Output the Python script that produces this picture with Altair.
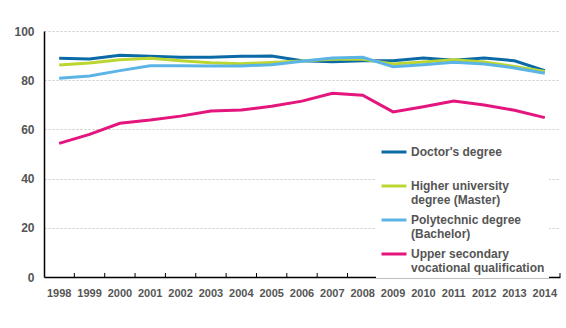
import altair as alt
import pandas as pd

years = list(range(1998, 2015))
doctor = [88.9, 88.6, 90.1, 89.7, 89.3, 89.3, 89.7, 89.8, 87.9, 87.5, 87.9, 87.9, 89.0, 88.1, 89.0, 87.9, 83.9]
master = [86.2, 87.0, 88.3, 88.9, 87.9, 87.1, 86.7, 87.2, 87.8, 88.5, 88.5, 86.6, 87.4, 88.3, 87.4, 85.6, 83.5]
poly = [80.8, 81.7, 83.9, 85.9, 85.9, 85.8, 85.8, 86.3, 87.7, 89.0, 89.3, 85.5, 86.3, 87.3, 86.6, 85.0, 82.8]
upper = [54.3, 58.0, 62.5, 63.8, 65.4, 67.5, 67.9, 69.4, 71.5, 74.7, 73.9, 67.1, 69.2, 71.5, 69.9, 67.8, 64.8]

series_names = [
    "Doctor's degree|",
    "Higher university|degree (Master)",
    "Polytechnic degree|(Bachelor)",
    "Upper secondary|vocational qualification",
]
series_colors = ["#0a6aa6", "#bcd631", "#5cb4e6", "#e4157c"]

rows = []
for name, vals in zip(series_names, [doctor, master, poly, upper]):
    for y, v in zip(years, vals):
        rows.append({"year": str(y), "series": name, "value": v})
df = pd.DataFrame(rows)
ticks_df = pd.DataFrame({"year": [str(y) for y in years]})

FONT = "Liberation Sans"
GRAY = "#555555"
W, H = 516, 246

xscale = alt.Scale(type="band", paddingInner=0, paddingOuter=0)

lines = alt.Chart(df).mark_line(strokeWidth=3).encode(
    x=alt.X("year:O", scale=xscale, bandPosition=0.5, title=None,
            axis=alt.Axis(labelAngle=0, tickSize=0, labelPadding=10, domainColor="#000000",
                          labelColor=GRAY, labelFont=FONT, labelFontSize=11, labelFontWeight="bold")),
    y=alt.Y("value:Q", scale=alt.Scale(domain=[0, 100]), title=None,
            axis=alt.Axis(values=[0, 20, 40, 60, 80, 100], tickSize=0, labelPadding=10,
                          domainColor="#000000", gridColor="#c8c8c8", gridDash=[2, 2],
                          labelColor=GRAY, labelFont=FONT, labelFontSize=12, labelFontWeight="bold")),
    color=alt.Color("series:N", sort=series_names,
                    scale=alt.Scale(domain=series_names, range=series_colors),
                    legend=alt.Legend(title=None, orient="none", legendX=332, legendY=103,
                                      symbolType="stroke", symbolSize=625, symbolStrokeWidth=3,
                                      labelExpr="split(datum.label, '|')",
                                      labelFont=FONT, labelFontSize=12, labelFontWeight="bold",
                                      labelColor=GRAY, labelLimit=200, labelOffset=3,
                                      labelBaseline="middle", rowPadding=-1,
                                      fillColor="white", padding=4)),
)

ticks = alt.Chart(ticks_df).mark_rule(color="#000000", strokeWidth=1).encode(
    x=alt.X("year:O", scale=xscale, bandPosition=1),
    y=alt.value(H - 4),
    y2=alt.value(H),
)

chart = alt.layer(lines, ticks).properties(
    width=W, height=H,
    autosize=alt.AutoSizeParams(type="none"),
    padding={"left": 44, "top": 31, "right": 6, "bottom": 51},
).configure_view(stroke=None).configure_axis(domainWidth=1.5)

chart.save("out.html", embed_options={"renderer": "svg", "actions": False})
